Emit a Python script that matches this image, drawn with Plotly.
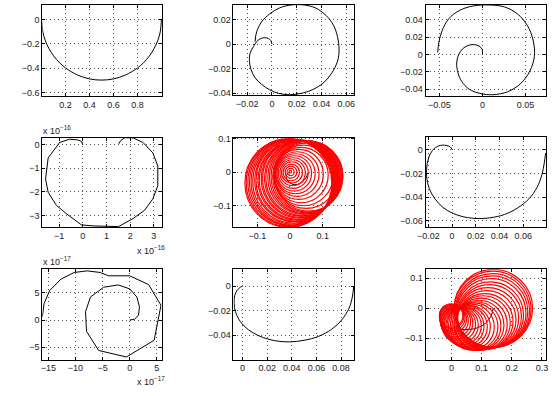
import plotly.graph_objects as go

# ---------------- data ----------------
p1_x = [0.0, 0.01, 0.03, 0.06, 0.1, 0.15, 0.2, 0.3, 0.4, 0.5, 0.6, 0.7, 0.8, 0.85, 0.9, 0.94, 0.97, 0.99, 1.0]
p1_y = [0.0, -0.1, -0.17, -0.235, -0.298, -0.355, -0.398, -0.456, -0.488, -0.498, -0.488, -0.456, -0.398,
        -0.355, -0.298, -0.235, -0.17, -0.1, 0.0]

p2_x = [0.0, -0.001, -0.003, -0.0058, -0.0092, -0.0124, -0.015, -0.0177, -0.0182, -0.0169, -0.0137, -0.0084,
        -0.0018, 0.0055, 0.014, 0.0233, 0.0325, 0.0418, 0.0484, 0.0529, 0.0542, 0.0529, 0.0497, 0.0436,
        0.0352, 0.0259, 0.0154, 0.0061, -0.0018, -0.0084, -0.0124, -0.0137]
p2_y = [0.0, 0.003, 0.0047, 0.0053, 0.0045, 0.002, -0.002, -0.0073, -0.014, -0.0207, -0.0274, -0.0328,
        -0.0373, -0.0402, -0.0413, -0.0402, -0.0373, -0.0314, -0.0234, -0.014, -0.0047, 0.0061, 0.0154, 0.0235,
        0.0296, 0.032, 0.032, 0.0296, 0.0248, 0.0182, 0.0101, 0.002]

p3_x = [0.0, -0.0004, -0.0042, -0.0106, -0.017, -0.0231, -0.0277, -0.0299, -0.0284, -0.0239, -0.0155, -0.003,
        0.0121, 0.0292, 0.0443, 0.0549, 0.0602, 0.0587, 0.0519, 0.0405, 0.0254, 0.0083, -0.0106, -0.0269,
        -0.039, -0.0466, -0.0504, -0.0519]
p3_y = [0.0, 0.0061, 0.0098, 0.0114, 0.0102, 0.0064, -0.0004, -0.0098, -0.0211, -0.0313, -0.04, -0.0449,
        -0.0464, -0.043, -0.0336, -0.0192, -0.0022, 0.0166, 0.0336, 0.0468, 0.0548, 0.057, 0.0559, 0.0506,
        0.0412, 0.0279, 0.0148, 0.0023]

# panel 4 values in units of 1e-16
p4_x = [0.0, -0.054, -0.22, -0.564, -0.978, -1.463, -1.574, -1.463, -1.119, -0.705, -0.054, 0.47, 1.508,
        2.13, 2.61, 2.96, 3.166, 3.166, 2.96, 2.544, 2.13, 1.78, 1.60, 1.52]
p4_y = [0.0, 0.1375, 0.208, 0.235, 0.096, -0.558, -1.458, -2.017, -2.571, -2.917, -3.404, -3.446, -3.474,
        -3.125, -2.78, -2.29, -1.74, -0.904, -0.35, 0.096, 0.29, 0.30, 0.18, 0.04]

p5_line_x = [0.0, -0.008, -0.012, -0.006, 0.004, 0.015, 0.027, 0.038, 0.047, 0.052, 0.053]
p5_line_y = [0.0, -0.005, -0.014, -0.027, -0.035, -0.038, -0.036, -0.03, -0.02, -0.011, -0.003]
p5_cx = [0.001, 0.002, 0.003, 0.004, 0.006, 0.008, 0.010, 0.013, 0.017, 0.022, 0.027, 0.034, 0.041, 0.049, 0.057,
         0.054, 0.050, 0.047, 0.043, 0.039, 0.036, 0.032, 0.029, 0.025, 0.022, 0.018, 0.015, 0.011, 0.008,
         0.005, 0.001, -0.002, -0.005]
p5_cy = [0.001, 0.000, 0.000, -0.001, -0.001, -0.002, -0.003, -0.004, -0.005, -0.006, -0.007, -0.009, -0.010,
         -0.011, -0.012, -0.013, -0.014, -0.015, -0.016, -0.018, -0.019, -0.020, -0.021, -0.023, -0.024,
         -0.025, -0.026, -0.028, -0.029, -0.030, -0.031, -0.032, -0.033]
p5_r = [0.004, 0.011, 0.018, 0.025, 0.032, 0.039, 0.046, 0.053, 0.060, 0.067, 0.075, 0.083, 0.091, 0.098, 0.105,
        0.107, 0.108, 0.110, 0.111, 0.113, 0.114, 0.116, 0.117, 0.119, 0.120, 0.122, 0.123, 0.125, 0.127,
        0.129, 0.130, 0.132, 0.133]

p6_x = [0.0, -0.0014, -0.005, -0.011, -0.0165, -0.0198, -0.0215, -0.0207, -0.0171, -0.011, -0.0041, 0.0069,
        0.0193, 0.0317, 0.044, 0.0551, 0.0647, 0.0716, 0.0758, 0.0777, 0.0788]
p6_y = [0.0, 0.0022, 0.0036, 0.0033, -0.0006, -0.007, -0.0166, -0.0277, -0.0373, -0.0456, -0.0512, -0.0559,
        -0.058, -0.0575, -0.0547, -0.0492, -0.0415, -0.0318, -0.0207, -0.0111, -0.0028]

# panel 7 values in units of 1e-17
p7_x = [0.0, 0.9, 1.63, 1.81, 1.33, 0.0, -2.1, -4.8, -7.23, -8.13, -7.95, -5.71, -0.6, 4.52, 5.78, 3.5, 0.0,
        -3.9, -5.42, -7.83, -10.23, -12.65, -14.75, -15.78, -16.1]
p7_y = [0.0, 0.13, 0.9, 2.42, 4.23, 5.73, 6.45, 6.03, 4.23, 1.52, -2.1, -5.6, -6.8, -3.72, 2.71, 6.51, 8.13,
        8.13, 8.74, 9.04, 8.74, 7.53, 5.42, 3.01, 0.6]

p8_x = [0.0, -0.0018, -0.0045, -0.0064, -0.0069, -0.0058, -0.0018, 0.0048, 0.0141, 0.0261, 0.038, 0.05,
        0.0619, 0.0725, 0.0805, 0.0864, 0.0892, 0.0903]
p8_y = [0.0, -0.0008, -0.0035, -0.0076, -0.0142, -0.0209, -0.029, -0.0357, -0.041, -0.0446, -0.0456, -0.0443,
        -0.041, -0.0352, -0.0277, -0.0183, -0.0088, 0.0]

p9_line_x = [0.138, 0.134, 0.126, 0.115, 0.104, 0.09, 0.077, 0.06, 0.044, 0.033, 0.023]
p9_line_y = [-0.002, -0.02, -0.036, -0.048, -0.058, -0.064, -0.069, -0.071, -0.072, -0.071, -0.069]
p9_cx = [-0.001, 0.001, 0.003, 0.006, 0.010, 0.014, 0.018, 0.024, 0.029, 0.036, 0.042, 0.050, 0.057, 0.066,
         0.075, 0.083, 0.091, 0.098, 0.105, 0.111, 0.117, 0.121, 0.126, 0.129, 0.132, 0.134, 0.136, 0.137, 0.139]
p9_cy = [-0.025, -0.028, -0.033, -0.037, -0.042, -0.046, -0.050, -0.054, -0.057, -0.059, -0.061, -0.062,
         -0.063, -0.063, -0.062, -0.060, -0.057, -0.054, -0.049, -0.045, -0.039, -0.034, -0.028, -0.023,
         -0.017, -0.012, -0.008, -0.004, -0.001]
p9_r = [0.039, 0.040, 0.042, 0.044, 0.046, 0.050, 0.053, 0.056, 0.060, 0.063, 0.066, 0.069, 0.072, 0.076,
        0.079, 0.081, 0.083, 0.087, 0.090, 0.093, 0.097, 0.102, 0.106, 0.110, 0.115, 0.119, 0.123, 0.127, 0.130]

# axis ranges and ticks
ranges = [
    ([0.006, 1.004], [-0.632, 0.122]),
    ([-0.0311, 0.0663], [-0.0418, 0.032]),
    ([-0.0659, 0.0739], [-0.0483, 0.057]),
    ([-1.71, 3.34], [-3.49, 0.304]),
    ([-0.1729, 0.196], [-0.1648, 0.1035]),
    ([-0.0223, 0.0793], [-0.0652, 0.011]),
    ([-16.1, 5.95], [-7.28, 9.34]),
    ([-0.0074, 0.0906], [-0.0601, 0.0139]),
    ([-0.0854, 0.314], [-0.172, 0.1295]),
]
xticks = [
    [0.2, 0.4, 0.6, 0.8],
    [-0.02, 0, 0.02, 0.04, 0.06],
    [-0.05, 0, 0.05],
    [-1, 0, 1, 2, 3],
    [-0.1, 0, 0.1],
    [-0.02, 0, 0.02, 0.04, 0.06],
    [-15, -10, -5, 0, 5],
    [0, 0.02, 0.04, 0.06, 0.08],
    [0, 0.1, 0.2, 0.3],
]
yticks = [
    [0, -0.2, -0.4, -0.6],
    [0.02, 0, -0.02, -0.04],
    [0.04, 0.02, 0, -0.02, -0.04],
    [0, -1, -2, -3],
    [0.1, 0, -0.1],
    [0, -0.02, -0.04, -0.06],
    [5, 0, -5],
    [0, -0.02, -0.04],
    [0.1, 0, -0.1],
]

# ---------------- layout geometry (pixels) ----------------
W, H = 558, 396
boxes = [(34, 156, 1, 94), (229, 352, 1, 93), (425, 548, 1, 94),
         (34, 156, 136, 227), (229, 352, 136, 227), (425, 548, 135, 227),
         (34, 156, 270, 362), (229, 352, 270, 362), (425, 548, 270, 362)]

FONT = "Liberation Sans, Arial, Helvetica, sans-serif"

fig = go.Figure()
layout = dict(width=W, height=H, margin=dict(l=0, r=0, t=0, b=0),
              paper_bgcolor="white", plot_bgcolor="white", showlegend=False,
              font=dict(family=FONT, size=9, color="#222"))

for i, (x0, x1, y0, y1) in enumerate(boxes):
    n = i + 1
    xr, yr = ranges[i]
    common = dict(showline=True, linecolor="black", linewidth=1, mirror="ticks",
                  ticks="inside", ticklen=3, tickcolor="black", tickwidth=1,
                  showgrid=True, gridcolor="#555", griddash="1px,3px", gridwidth=1,
                  zeroline=False, tickfont=dict(family=FONT, size=9, color="#222"),
                  fixedrange=True)
    layout["xaxis%d" % n] = dict(domain=[x0 / W, x1 / W], range=xr, anchor="y%d" % n,
                                 tickvals=xticks[i], **common)
    layout["yaxis%d" % n] = dict(domain=[1 - y1 / H, 1 - y0 / H], range=yr, anchor="x%d" % n,
                                 tickvals=yticks[i], **common)

lines = [(p1_x, p1_y, "spline"), (p2_x, p2_y, "spline"), (p3_x, p3_y, "spline"),
         (p4_x, p4_y, "linear"), (p5_line_x, p5_line_y, "spline"), (p6_x, p6_y, "spline"),
         (p7_x, p7_y, "linear"), (p8_x, p8_y, "spline"), (p9_line_x, p9_line_y, "spline")]
for i, (xs, ys, shp) in enumerate(lines):
    n = i + 1
    fig.add_trace(go.Scatter(x=xs, y=ys, mode="lines", xaxis="x%d" % n, yaxis="y%d" % n,
                             line=dict(color="black", width=1, shape=shp), hoverinfo="skip"))

shapes = []
for n, cxs, cys, rs in [(5, p5_cx, p5_cy, p5_r), (9, p9_cx, p9_cy, p9_r)]:
    for cx, cy, r in zip(cxs, cys, rs):
        shapes.append(dict(type="circle", xref="x%d" % n, yref="y%d" % n,
                           x0=cx - r, x1=cx + r, y0=cy - r, y1=cy + r,
                           line=dict(color="#ff0000", width=1.2), layer="above"))
layout["shapes"] = shapes

exp_labels = [(33, 128, "x 10<sup>\u221216</sup>"), (129, 250, "x 10<sup>\u221216</sup>"),
              (33, 262, "x 10<sup>\u221217</sup>"), (129, 384, "x 10<sup>\u221217</sup>")]
layout["annotations"] = [dict(xref="paper", yref="paper", x=px / W, y=1 - py / H, text=t,
                              showarrow=False, xanchor="left", yanchor="middle",
                              font=dict(family=FONT, size=9, color="#222"))
                         for px, py, t in exp_labels]

fig.update_layout(**layout)
fig.write_html("out.html")
